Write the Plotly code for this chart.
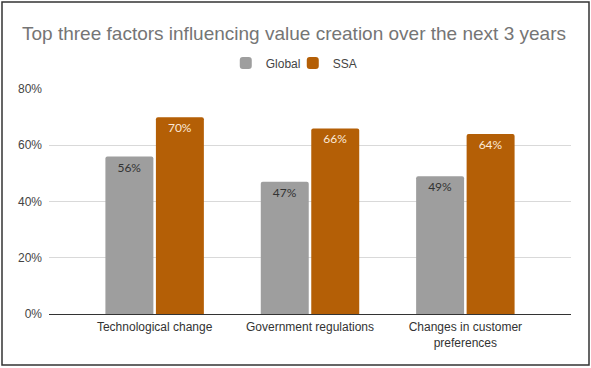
import plotly.graph_objects as go

categories = ["Technological change", "Government regulations", "Changes in customer<br>preferences"]
global_vals = [56, 47, 49]
ssa_vals = [70, 66, 64]
series_names = ["Global", "SSA"]
tick_vals = [0, 20, 40, 60, 80]
tick_text = ["0%", "20%", "40%", "60%", "80%"]

fig = go.Figure()
fig.add_trace(go.Bar(
    x=categories, y=global_vals, name=series_names[0],
    marker=dict(color="#9e9e9e", line=dict(width=0)),
    text=[f"{v}%" for v in global_vals], textposition="inside",
    insidetextanchor="end", textangle=0,
    insidetextfont=dict(family="Lato, Open Sans, sans-serif", size=12, color="#333333"),
))
fig.add_trace(go.Bar(
    x=categories, y=ssa_vals, name=series_names[1],
    marker=dict(color="#b45f06", line=dict(width=0)),
    text=[f"{v}%" for v in ssa_vals], textposition="inside",
    insidetextanchor="end", textangle=0,
    insidetextfont=dict(family="Lato, Open Sans, sans-serif", size=12, color="#fbe9d8"),
))

fig.update_layout(
    width=591, height=368,
    margin=dict(l=49, r=20, t=89, b=54),
    paper_bgcolor="white", plot_bgcolor="white",
    barmode="group", bargap=0.35, bargroupgap=0.05, barcornerradius=2,
    font=dict(family="Liberation Sans, Arial, sans-serif", size=12, color="#444444"),
    title=dict(
        text="Top three factors influencing value creation over the next 3 years",
        font=dict(family="Liberation Sans, Arial, sans-serif", size=19, color="#757575"),
        x=294 / 591, xref="container", xanchor="center",
        y=1 - 33 / 368, yref="container", yanchor="middle",
    ),
    legend=dict(
        orientation="h", x=0.467, xanchor="center", y=1.1156, yanchor="middle",
        font=dict(size=12, color="#444444"),
        traceorder="normal", itemwidth=30, entrywidth=22,
    ),
    xaxis=dict(
        range=[-0.68, 2.68], showgrid=False, showline=False, ticks="",
        ticklabelstandoff=4,
        tickfont=dict(size=12, color="#333333"), fixedrange=True,
    ),
    yaxis=dict(
        range=[0, 80], tickvals=tick_vals, ticktext=tick_text,
        showgrid=True, gridcolor="#d9d9d9", gridwidth=1,
        zeroline=True, zerolinecolor="#333333", zerolinewidth=1,
        showline=False, ticks="", ticklabelstandoff=6,
        tickfont=dict(size=12, color="#444444"),
    ),
    shapes=[dict(
        type="rect", xref="paper", yref="paper",
        x0=(2 - 49) / 522, x1=(589 - 49) / 522,
        y0=(314 - 365) / 225, y1=(314 - 2) / 225,
        line=dict(color="#333333", width=1.5), fillcolor="rgba(0,0,0,0)", layer="above",
    )],
)

fig.write_html("out.html", config={"displayModeBar": False},
               post_script="document.body.style.margin='0px';")
